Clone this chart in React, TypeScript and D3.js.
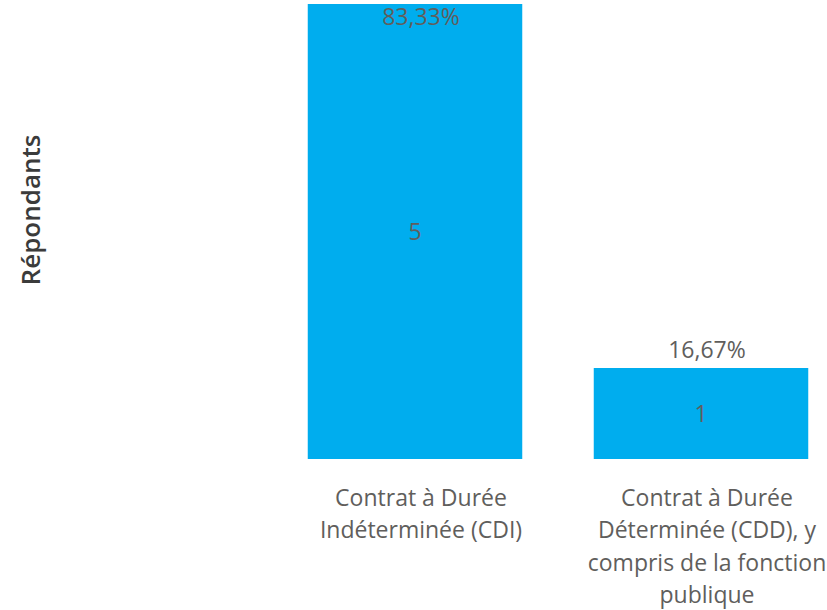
import React from "react";
import * as d3 from "d3";

const categories = ["CDI", "CDD"];
const values = [5, 1];
const percentLabels = ["83,33%", "16,67%"];
const tickLabels = [
  ["Contrat à Durée", "Indéterminée (CDI)"],
  ["Contrat à Durée", "Déterminée (CDD), y", "compris de la fonction", "publique"],
];
const yTitle = "Répondants";

const W = 827;
const H = 610;
const FONT = "'Open Sans', 'Noto Sans', sans-serif";

export default function App() {
  const x = d3
    .scaleBand<string>()
    .domain(categories)
    .range([272, 844])
    .paddingInner(0.25)
    .paddingOuter(0.125);
  const y = d3.scaleLinear().domain([0, 5]).range([459, 4]);
  const labelShift = 6;

  return (
    <svg
      width={W}
      height={H}
      style={{ position: "absolute", left: 0, top: 0, background: "#fff" }}
      fontFamily={FONT}
    >
      <text
        transform={`translate(40, 210) rotate(-90)`}
        textAnchor="middle"
        fontSize={26}
        fontWeight={600}
        fill="#3b3b3b"
      >
        {yTitle}
      </text>
      {categories.map((c, i) => {
        const bx = x(c)!;
        const bw = x.bandwidth();
        const top = y(values[i]);
        const bottom = y(0);
        const cx = bx + bw / 2;
        const pctY = Math.max(top - 10, 25);
        return (
          <g key={c}>
            <rect x={bx} y={top} width={bw} height={bottom - top} fill="#00ADEE" />
            <text
              x={cx}
              y={(top + bottom) / 2}
              dy="0.35em"
              textAnchor="middle"
              fontSize={23}
              fill="#605E5C"
            >
              {values[i]}
            </text>
            <text
              x={cx + labelShift}
              y={pctY}
              textAnchor="middle"
              fontSize={23}
              fill="#605E5C"
            >
              {percentLabels[i]}
            </text>
            {tickLabels[i].map((line, j) => (
              <text
                key={j}
                x={cx + labelShift}
                y={498 + j * 32.3}
                dy="0.35em"
                textAnchor="middle"
                fontSize={23}
                fill="#605E5C"
              >
                {line}
              </text>
            ))}
          </g>
        );
      })}
    </svg>
  );
}
